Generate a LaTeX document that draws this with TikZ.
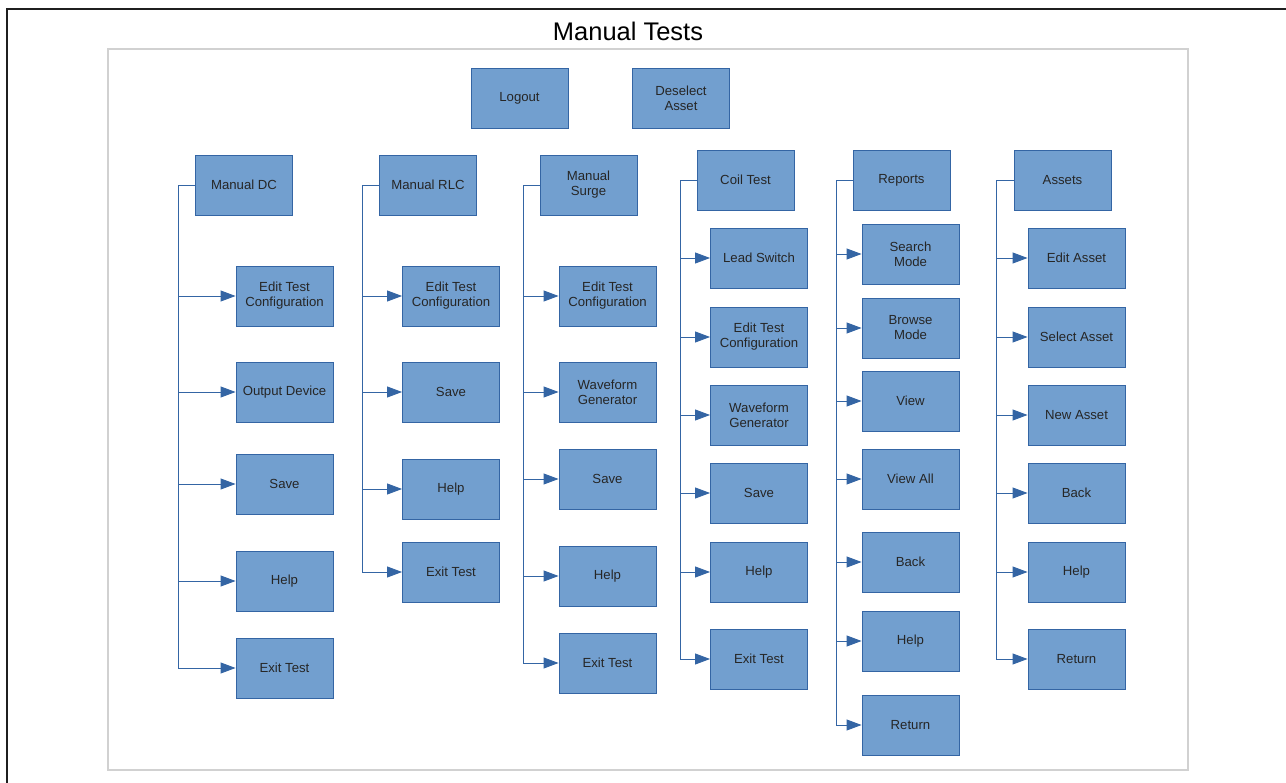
\documentclass[tikz,border=0pt]{standalone}
\usepackage{fontspec}
\setmainfont{Liberation Sans}
\usepackage{tikz}
\usetikzlibrary{
    arrows.meta,
    positioning
}
\definecolor{boxfill}{HTML}{729FCF}
\definecolor{boxedge}{HTML}{3465A4}
\tikzstyle{module} = [
    rectangle,
    draw=boxedge,
    line width=0.5pt,
    fill=boxfill,
    minimum width=1.94cm,
    minimum height=1.2cm,
    inner sep=1pt,
    align=center,
    text=black!85,
    font=\fontsize{7.5}{8.5}\selectfont
]
\tikzstyle{link} = [
    -{Triangle[length=0.3cm,width=0.22cm]},
    line width=0.5pt,
    draw=boxedge
]

\begin{document}
\begin{tikzpicture}[x=0.02cm, y=-0.02cm]
    \useasboundingbox (0,0) rectangle (1286,783);
    % Frames and title
    \draw[black!88, line width=1.2pt] (1286,9) -- (7,9) -- (7,783);
    \draw[black!18, line width=0.7pt] (108,49) rectangle (1188,770);
    \node[font=\fontsize{14.5}{16}\selectfont] (title) at (628,31) {Manual Tests};

    % Top buttons
    \node[module] (logout) at (519.5,98) {Logout};
    \node[module] (deselect) at (681,98) {Deselect\\Asset};

    % Manual DC
    \node[module] (dc) at (244,185) {Manual DC};
    \coordinate (dcbus) at (178,185);
    \foreach \id/\y/\txt in {edit/296/{Edit Test\\Configuration}, out/392/{Output Device},
                             save/484/Save, help/581/Help, exit/668/{Exit Test}} {
        \node[module] (dc\id) at (284.5,\y) {\txt};
        \draw[link] (dc.west) -- (dcbus) |- (dc\id.west);
    }

    % Manual RLC
    \node[module] (rlc) at (428,185) {Manual RLC};
    \coordinate (rlcbus) at (362,185);
    \foreach \id/\y/\txt in {edit/296/{Edit Test\\Configuration}, save/392/Save,
                             help/489/Help, exit/572/{Exit Test}} {
        \node[module] (rlc\id) at (451,\y) {\txt};
        \draw[link] (rlc.west) -- (rlcbus) |- (rlc\id.west);
    }

    % Manual Surge
    \node[module] (surge) at (588.5,185) {Manual\\Surge};
    \coordinate (surgebus) at (523,185);
    \foreach \id/\y/\txt in {edit/296/{Edit Test\\Configuration}, wave/392/{Waveform\\Generator},
                             save/479/Save, help/576/Help, exit/663/{Exit Test}} {
        \node[module] (surge\id) at (607.5,\y) {\txt};
        \draw[link] (surge.west) -- (surgebus) |- (surge\id.west);
    }

    % Coil Test
    \node[module] (coil) at (745.5,180) {Coil Test};
    \coordinate (coilbus) at (680,180);
    \foreach \id/\y/\txt in {lead/258/{Lead Switch}, edit/337/{Edit Test\\Configuration},
                             wave/415/{Waveform\\Generator}, save/493/Save,
                             help/572/Help, exit/659/{Exit Test}} {
        \node[module] (coil\id) at (759,\y) {\txt};
        \draw[link] (coil.west) -- (coilbus) |- (coil\id.west);
    }

    % Reports
    \node[module] (reports) at (901.5,180) {Reports};
    \coordinate (reportsbus) at (836,180);
    \foreach \id/\y/\txt in {search/254/{Search\\Mode}, browse/328/{Browse\\Mode},
                             view/401/View, all/479/{View All}, back/562/Back,
                             help/641/Help, ret/725/Return} {
        \node[module] (reports\id) at (910.5,\y) {\txt};
        \draw[link] (reports.west) -- (reportsbus) |- (reports\id.west);
    }

    % Assets
    \node[module] (assets) at (1062.5,180) {Assets};
    \coordinate (assetsbus) at (996,180);
    \foreach \id/\y/\txt in {edit/258/{Edit Asset}, select/337/{Select Asset},
                             new/415/{New Asset}, back/493/Back,
                             help/572/Help, ret/659/Return} {
        \node[module] (assets\id) at (1076.5,\y) {\txt};
        \draw[link] (assets.west) -- (assetsbus) |- (assets\id.west);
    }
\end{tikzpicture}
\end{document}
